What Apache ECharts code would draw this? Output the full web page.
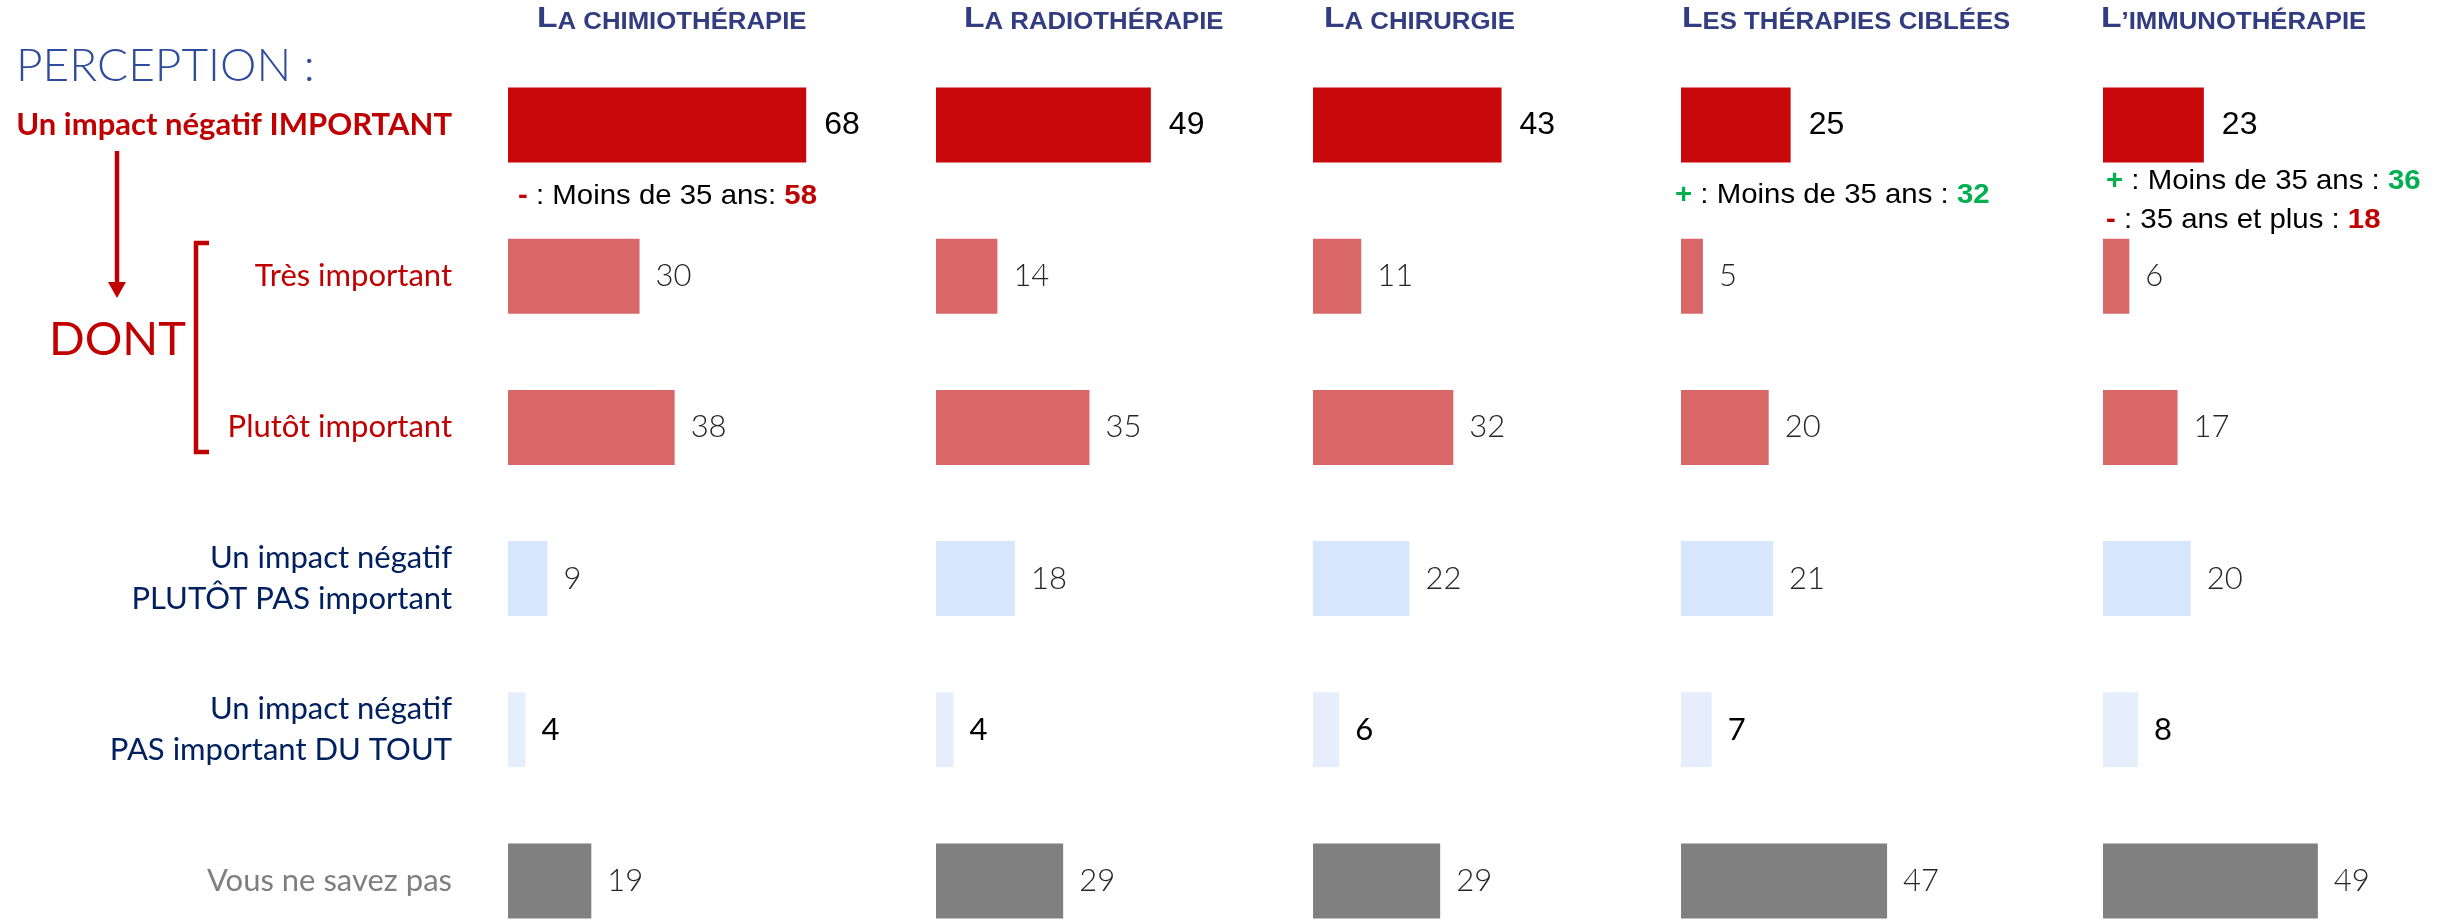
<!DOCTYPE html>
<html>
<head>
<meta charset="utf-8">
<script src="https://cdn.jsdelivr.net/npm/echarts@6/dist/echarts.min.js"></script>
<style>
  html, body { margin: 0; padding: 0; background: #fff; }
  #chart { width: 2446px; height: 923px; }
</style>
</head>
<body>
<div id="chart"></div>
<script>
// row labels (top to bottom)
const rows = [
  'Un impact négatif IMPORTANT',
  'Très important',
  'Plutôt important',
  'Un impact négatif\nPLUTÔT PAS important',
  'Un impact négatif\nPAS important DU TOUT',
  'Vous ne savez pas'
];
// column titles : first letter, rest (small caps)
const titlesFirst = ['L', 'L', 'L', 'L', 'L'];
const titlesRest = ['A CHIMIOTHÉRAPIE', 'A RADIOTHÉRAPIE', 'A CHIRURGIE', 'ES THÉRAPIES CIBLÉES', '’IMMUNOTHÉRAPIE'];

// values per column, same order as rows
const chimio = [68, 30, 38, 9, 4, 19];
const radio = [49, 14, 35, 18, 4, 29];
const chirurgie = [43, 11, 32, 22, 6, 29];
const ciblees = [25, 5, 20, 21, 7, 47];
const immuno = [23, 6, 17, 20, 8, 49];
const columns = [chimio, radio, chirurgie, ciblees, immuno];

// sub-group notes under the first bar
const notes = [
  [{ sign: '-', text: ' : Moins de 35 ans: ', value: '58' }],
  [],
  [],
  [{ sign: '+', text: ' : Moins de 35 ans : ', value: '32' }],
  [{ sign: '+', text: ' : Moins de 35 ans : ', value: '36' },
   { sign: '-', text: ' : 35 ans et plus : ', value: '18' }]
];

const RED = '#c8080a';
const rowColors = [RED, '#d96767', '#d96767', '#d5e6fd', '#e6eefb', '#808080'];
const rowText = ['#c00000', '#c00000', '#c00000', '#002060', '#002060', '#7f7f7f'];
const ARIAL = '"Liberation Sans", Arial, sans-serif';
const CAL = 'Lato, "Open Sans", sans-serif';

const colLeft = [508, 936, 1313, 1681, 2103];
const titleLeft = [537, 964, 1324, 1682, 2101];
const noteX = [[518], [], [], [1675], [2106, 2106]];
const noteY = [[196], [], [], [195], [181, 220]];
const unit = 4.385;   // px per point
const gridTop = 49.5, gridH = 907;

const chart = echarts.init(document.getElementById('chart'));

const grids = [], xAxes = [], yAxes = [], series = [];
columns.forEach((vals, c) => {
  grids.push({
    left: colLeft[c], top: gridTop, width: 100 * unit, height: gridH,
    containLabel: false, outerBoundsMode: 'none'
  });
  xAxes.push({ gridIndex: c, type: 'value', min: 0, max: 100, show: false });
  yAxes.push({
    gridIndex: c, type: 'category', data: rows, inverse: true,
    axisLine: { show: false }, axisTick: { show: false }, splitLine: { show: false },
    axisLabel: c === 0 ? {
      show: true, margin: 56, align: 'right',
      formatter: (v, i) => v.split('\n').map(s => '{r' + i + '|' + s + '}').join('\n'),
      rich: Object.fromEntries(rowText.map((col, i) => ['r' + i, {
        color: col, fontFamily: CAL, fontSize: 31,
        fontWeight: i === 0 ? 'bold' : 'normal', lineHeight: 41, align: 'right'
      }]))
    } : { show: false }
  });
  series.push({
    type: 'bar', xAxisIndex: c, yAxisIndex: c, barWidth: 75,
    data: vals.map((v, i) => ({
      value: v,
      itemStyle: { color: rowColors[i] },
      label: {
        show: true, position: 'right', distance: i === 0 ? 18 : 16,
        fontSize: i === 0 ? 32 : 31,
        fontFamily: i === 0 ? ARIAL : CAL,
        fontWeight: i === 0 || i === 4 ? 'normal' : 300,
        color: i === 0 || i === 4 ? '#000' : '#262626'
      }
    })),
    animation: false
  });
});

const graphics = [];
// PERCEPTION :
graphics.push({
  type: 'text', x: 16, y: 66,
  style: { text: 'PERCEPTION :', fill: '#2f4b9d', font: '300 46px ' + CAL, verticalAlign: 'middle' }
});
// DONT
graphics.push({
  type: 'text', x: 49, y: 340,
  style: { text: 'DONT', fill: '#c00000', font: '47px ' + CAL, verticalAlign: 'middle' }
});
// arrow
graphics.push({
  type: 'line', shape: { x1: 117, y1: 151, x2: 117, y2: 284 },
  style: { stroke: '#c00000', lineWidth: 4.5 }
});
graphics.push({
  type: 'polygon', shape: { points: [[108, 282], [126, 282], [117, 298]] },
  style: { fill: '#c00000' }
});
// bracket
graphics.push({
  type: 'polyline', shape: { points: [[209, 243], [196, 243], [196, 452], [209, 452]] },
  style: { stroke: '#c00000', lineWidth: 4.5, fill: null }
});
// column titles (slightly stretched small caps)
titlesRest.forEach((t, c) => {
  graphics.push({
    type: 'text', x: titleLeft[c], y: 34, scaleX: 1.12,
    style: {
      text: '{b|' + titlesFirst[c] + '}{s|' + t + '}',
      verticalAlign: 'bottom',
      rich: {
        b: { fontFamily: ARIAL, fontWeight: 'bold', fontSize: 30, fill: '#323c80', verticalAlign: 'bottom' },
        s: { fontFamily: ARIAL, fontWeight: 'bold', fontSize: 23, fill: '#323c80', verticalAlign: 'bottom' }
      }
    }
  });
});
// notes
notes.forEach((list, c) => {
  list.forEach((n, k) => {
    const col = n.sign === '+' ? '#00b050' : '#c00000';
    graphics.push({
      type: 'text', x: noteX[c][k], y: noteY[c][k], scaleX: 1.05,
      style: {
        text: '{s|' + n.sign + '}{t|' + n.text + '}{v|' + n.value + '}',
        verticalAlign: 'middle',
        rich: {
          s: { fontFamily: ARIAL, fontWeight: 'bold', fontSize: 28, fill: col },
          t: { fontFamily: ARIAL, fontSize: 28, fill: '#000' },
          v: { fontFamily: ARIAL, fontWeight: 'bold', fontSize: 28, fill: col }
        }
      }
    });
  });
});

chart.setOption({
  animation: false,
  grid: grids,
  xAxis: xAxes,
  yAxis: yAxes,
  series: series,
  graphic: graphics
});
</script>
</body>
</html>
